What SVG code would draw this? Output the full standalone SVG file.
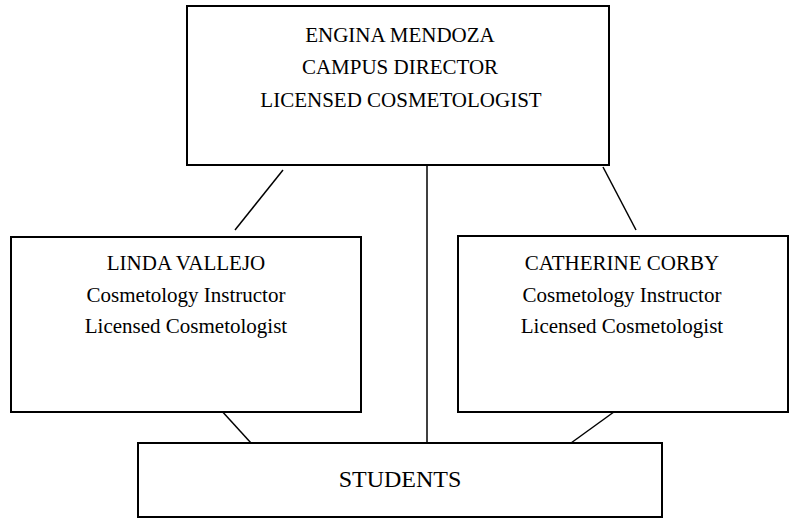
<svg xmlns="http://www.w3.org/2000/svg" width="799" height="523" viewBox="0 0 799 523">
<style>
.box{fill:#fff;stroke:#000;stroke-width:2}
.ln{stroke:#000;stroke-width:1.5;fill:none}
text{font-family:"Liberation Serif","Times New Roman",serif;fill:#000;text-anchor:middle}
.t{font-size:21px}
.s{font-size:24px}
</style>
<rect width="799" height="523" fill="#fff"/>
<g id="connectors">
<line class="ln" x1="283" y1="170" x2="235" y2="230"/>
<line class="ln" x1="603" y1="167" x2="636" y2="230"/>
<line class="ln" x1="427" y1="166" x2="427" y2="443"/>
<line class="ln" x1="220" y1="409" x2="251" y2="443"/>
<line class="ln" x1="618" y1="409" x2="571" y2="443"/>
</g>
<g id="director">
<rect class="box" x="187" y="6" width="422" height="159"/>
<text class="t" x="400" y="42">ENGINA MENDOZA</text>
<text class="t" x="400" y="74">CAMPUS DIRECTOR</text>
<text class="t" x="401" y="107">LICENSED COSMETOLOGIST</text>
</g>
<g id="linda">
<rect class="box" x="11" y="237" width="350" height="175"/>
<text class="t" x="186" y="270">LINDA VALLEJO</text>
<text class="t" x="186" y="302">Cosmetology Instructor</text>
<text class="t" x="186" y="333">Licensed Cosmetologist</text>
</g>
<g id="catherine">
<rect class="box" x="458" y="236" width="330" height="176"/>
<text class="t" x="622" y="270">CATHERINE CORBY</text>
<text class="t" x="622" y="302">Cosmetology Instructor</text>
<text class="t" x="622" y="333">Licensed Cosmetologist</text>
</g>
<g id="students">
<rect class="box" x="138" y="443" width="524" height="74"/>
<text class="s" x="400" y="487">STUDENTS</text>
</g>
</svg>
